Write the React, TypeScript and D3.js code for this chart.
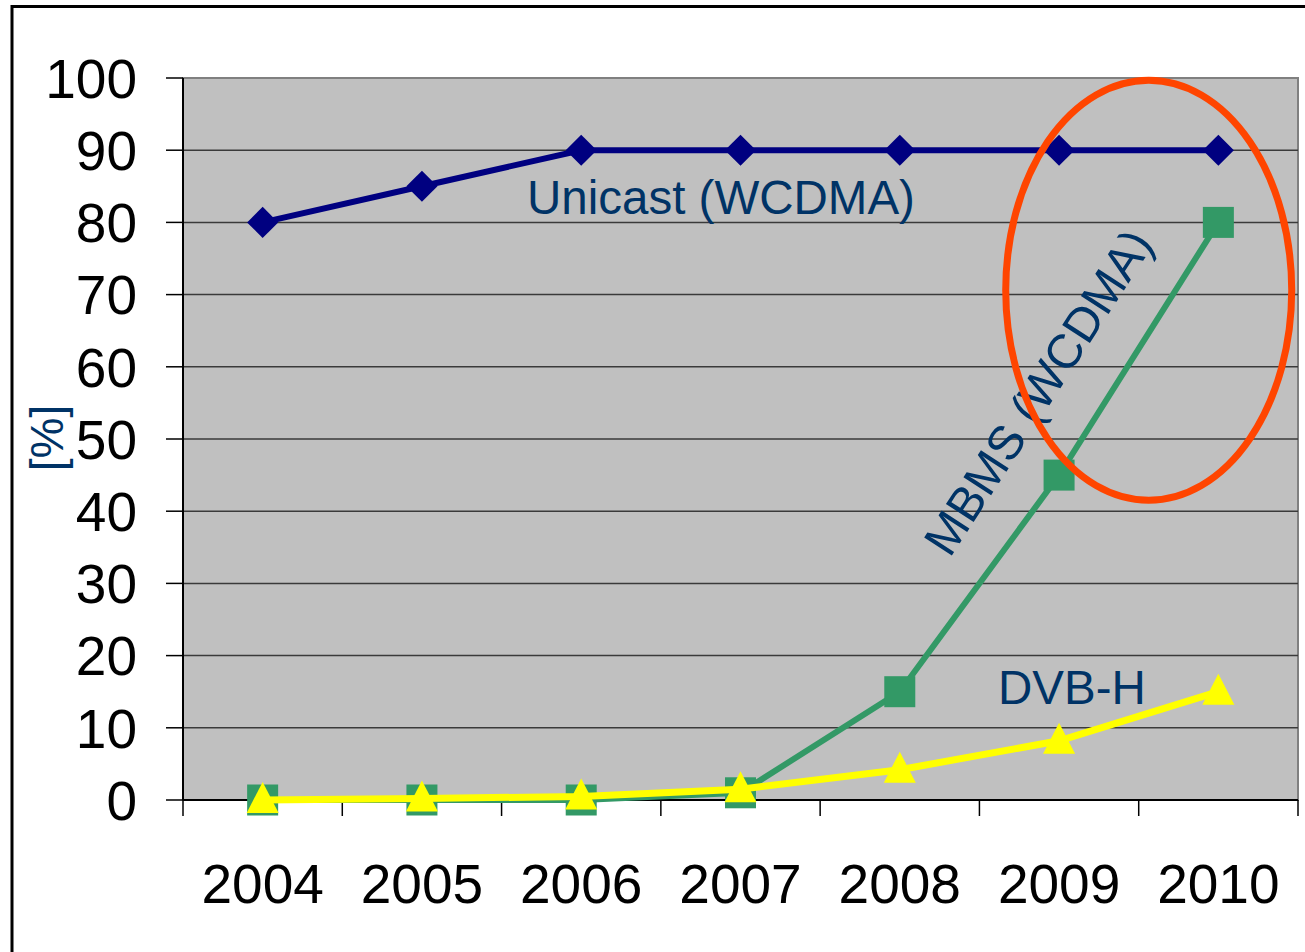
import React from 'react';
import * as d3 from 'd3';

const years = ['2004', '2005', '2006', '2007', '2008', '2009', '2010'];
const unicast = [80, 85, 90, 90, 90, 90, 90];
const mbms = [0, 0, 0, 1, 15, 45, 80];
const dvbh = [0, 0.2, 0.5, 1.5, 4.2, 8.2, 15];
const yTicks = [0, 10, 20, 30, 40, 50, 60, 70, 80, 90, 100];

const W = 1305;
const H = 952;
const plot = { left: 183, right: 1298, top: 78, bottom: 800 };
const FONT = 'Arial, "Liberation Sans", sans-serif';
const LABEL = '#003366';

const App: React.FC = () => {
  const x = d3.scaleBand<string>().domain(years).range([plot.left, plot.right]);
  const y = d3.scaleLinear().domain([0, 100]).range([plot.bottom, plot.top]);
  const cx = (i: number) => (x(years[i]) as number) + x.bandwidth() / 2;

  const line = d3.line<number>().x((_, i) => cx(i)).y(d => y(d));

  const diamond = d3.symbol().type(d3.symbolSquare).size(22 * 22)();
  const tri = (px: number, py: number) =>
    `M${px},${py - 18}L${px + 16},${py + 13}L${px - 16},${py + 13}Z`;

  // boundaries between categories for x ticks
  const xTicks = years.map(d => x(d) as number).concat([plot.right]);

  // ellipse around last two MBMS points
  const ellCx = (x('2010') as number) + 10;
  const ellCy = y(70.6);

  return (
    <svg width={W} height={H} style={{ position: 'absolute', left: 0, top: 0, background: '#fff' }}>
      <rect x={12} y={6.5} width={W + 20} height={H + 20} fill="#fff" stroke="#000" strokeWidth={3} />

      <rect x={plot.left} y={plot.top} width={plot.right - plot.left} height={plot.bottom - plot.top}
        fill="#C0C0C0" stroke="#808080" strokeWidth={2} />

      {yTicks.map(t => (
        <g key={t}>
          {t > 0 && t < 100 && (
            <line x1={plot.left} x2={plot.right} y1={y(t)} y2={y(t)} stroke="#3a3a3a" strokeWidth={1.5} />
          )}
          <line x1={166} x2={plot.left} y1={y(t)} y2={y(t)} stroke="#000" strokeWidth={1.5} />
          <text x={137} y={y(t)} dy="0.36em" textAnchor="end" fontFamily={FONT} fontSize={55} fill="#000">
            {t}
          </text>
        </g>
      ))}

      <line x1={plot.left} x2={plot.left} y1={plot.top} y2={plot.bottom} stroke="#000" strokeWidth={2} />
      <line x1={plot.left} x2={plot.right} y1={plot.bottom} y2={plot.bottom} stroke="#000" strokeWidth={2} />
      {xTicks.map((t, i) => (
        <line key={i} x1={t} x2={t} y1={plot.bottom} y2={816} stroke="#000" strokeWidth={1.5} />
      ))}
      {years.map((yr, i) => (
        <text key={yr} x={cx(i)} y={903} textAnchor="middle" fontFamily={FONT} fontSize={55} fill="#000">
          {yr}
        </text>
      ))}

      <text transform="translate(63,438) rotate(-90)" textAnchor="middle" fontFamily={FONT} fontSize={46} fill={LABEL}>
        [%]
      </text>

      {/* Unicast */}
      <path d={line(unicast) as string} fill="none" stroke="#000080" strokeWidth={6} />
      {unicast.map((v, i) => (
        <path key={i} d={diamond as string} transform={`translate(${cx(i)},${y(v)}) rotate(45)`} fill="#000080" />
      ))}

      {/* MBMS */}
      <path d={line(mbms) as string} fill="none" stroke="#339966" strokeWidth={6} />
      {mbms.map((v, i) => (
        <rect key={i} x={cx(i) - 15.5} y={y(v) - 15.5} width={31} height={31} fill="#339966" />
      ))}

      {/* DVB-H */}
      <path d={line(dvbh) as string} fill="none" stroke="#FFFF00" strokeWidth={7} />
      {dvbh.map((v, i) => (
        <path key={i} d={tri(cx(i), y(v))} fill="#FFFF00" />
      ))}

      <text x={527} y={214} fontFamily={FONT} fontSize={47.5} fill={LABEL}>Unicast (WCDMA)</text>
      <text x={998} y={704} fontFamily={FONT} fontSize={47.5} fill={LABEL}>DVB-H</text>
      <text transform="translate(1038,392) rotate(-57)" dy="0.35em" textAnchor="middle"
        fontFamily={FONT} fontSize={48} fill={LABEL}>
        MBMS (WCDMA)
      </text>

      <ellipse cx={ellCx} cy={ellCy} rx={143} ry={210} fill="none" stroke="#FF4500" strokeWidth={7} />
    </svg>
  );
};

export default App;
